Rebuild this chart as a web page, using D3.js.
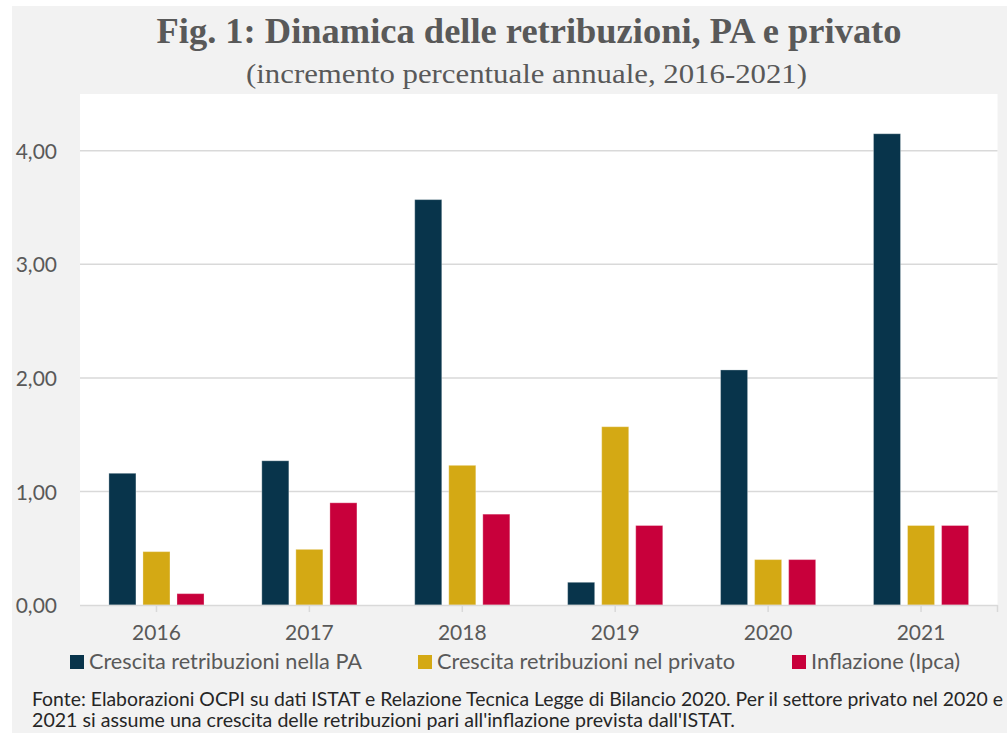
<!DOCTYPE html>
<html>
<head>
<meta charset="utf-8">
<script src="https://cdn.jsdelivr.net/npm/d3@7"></script>
<style>
  html, body { margin: 0; padding: 0; background: #ffffff; }
  svg { display: block; }
</style>
</head>
<body>
<svg id="chart" width="1007" height="733"></svg>
<script>
// ---------- DATA ----------
const categories = ["2016", "2017", "2018", "2019", "2020", "2021"];
const seriesNames = [
  "Crescita retribuzioni nella PA",
  "Crescita retribuzioni nel privato",
  "Inflazione (Ipca)"
];
const paValues = [1.16, 1.27, 3.57, 0.20, 2.07, 4.15];
const privatoValues = [0.47, 0.49, 1.23, 1.57, 0.40, 0.70];
const inflazioneValues = [0.10, 0.90, 0.80, 0.70, 0.40, 0.70];
const yTickValues = [0, 1, 2, 3, 4];
const titleText = "Fig. 1: Dinamica delle retribuzioni, PA e privato";
const subtitleText = "(incremento percentuale annuale, 2016-2021)";
const sourceLines = [
  "Fonte: Elaborazioni OCPI su dati ISTAT e Relazione Tecnica Legge di Bilancio 2020. Per il settore privato nel 2020 e",
  "2021 si assume una crescita delle retribuzioni pari all'inflazione prevista dall'ISTAT."
];

// ---------- STYLE / LAYOUT ----------
const colors = ["#08344b", "#d4a914", "#c8003b"];
const seriesValues = [paValues, privatoValues, inflazioneValues];
const sans = "Lato, 'Open Sans', sans-serif";
const serif = "'Liberation Serif', 'DejaVu Serif', serif";

const plot = { left: 80, right: 997.5, top: 94, bottom: 605 };

const svg = d3.select("#chart");

// backgrounds
svg.append("rect").attr("x", 12).attr("y", 6).attr("width", 1007 - 12).attr("height", 733 - 6)
  .attr("fill", "#f2f2f2");
svg.append("rect").attr("x", plot.left).attr("y", plot.top)
  .attr("width", plot.right - plot.left).attr("height", plot.bottom - plot.top)
  .attr("fill", "#ffffff");

function fit(sel, w) {
  sel.attr("textLength", w).attr("lengthAdjust", "spacingAndGlyphs");
}

// title
svg.append("text").attr("x", 529).attr("y", 43).attr("text-anchor", "middle")
  .attr("font-family", serif).attr("font-weight", "bold").attr("font-size", 35)
  .attr("fill", "#595959").text(titleText).call(fit, 745);
svg.append("text").attr("x", 526.5).attr("y", 83).attr("text-anchor", "middle")
  .attr("font-family", serif).attr("font-size", 27)
  .attr("fill", "#595959").text(subtitleText).call(fit, 561);

// scales
const x0 = d3.scaleBand().domain(categories).range([plot.left, plot.right])
  .paddingInner(0.378).paddingOuter(0.189);
const x1 = d3.scaleBand().domain(d3.range(seriesNames.length)).range([0, x0.bandwidth()])
  .paddingInner(0.206).paddingOuter(0);
const y = d3.scaleLinear().domain([0, 4.5]).range([plot.bottom, plot.top]);

const locale = d3.formatLocale({ decimal: ",", thousands: ".", grouping: [3], currency: ["", "€"] });
const fmt = locale.format(".2f");

// gridlines
svg.append("g")
  .selectAll("line").data(yTickValues.filter(d => d > 0)).join("line")
  .attr("x1", plot.left).attr("x2", plot.right)
  .attr("y1", d => y(d)).attr("y2", d => y(d))
  .attr("stroke", "#d9d9d9").attr("stroke-width", 1.5);

// y axis labels
const yAxis = d3.axisLeft(y).tickValues(yTickValues).tickFormat(fmt).tickSize(0).tickPadding(23);
const gy = svg.append("g").attr("transform", `translate(${plot.left},0)`).call(yAxis);
gy.select(".domain").remove();
gy.selectAll("text").attr("font-family", sans).attr("font-size", 21).attr("fill", "#595959")
  .attr("dy", "0.36em");

// bars
const groups = svg.append("g").selectAll("g").data(categories).join("g")
  .attr("transform", d => `translate(${x0(d)},0)`);
groups.selectAll("rect")
  .data((cat, i) => seriesValues.map((vals, s) => ({ s, v: vals[i] })))
  .join("rect")
  .attr("x", d => x1(d.s))
  .attr("width", x1.bandwidth())
  .attr("y", d => y(d.v))
  .attr("height", d => y(0) - y(d.v))
  .attr("fill", d => colors[d.s])
  .attr("stroke", "#ffffff").attr("stroke-opacity", 0.3).attr("stroke-width", 1);

// x axis
const xAxis = d3.axisBottom(x0).tickSize(0).tickPadding(20);
const gx = svg.append("g").attr("transform", `translate(0,${plot.bottom})`).call(xAxis);
gx.select(".domain").attr("stroke", "#d9d9d9").attr("stroke-width", 1.5)
  .attr("d", `M${plot.left},0.5H${plot.right}`);
gx.selectAll("text").attr("font-family", sans).attr("font-size", 21).attr("fill", "#595959");
// tick marks at category centres and at the right edge
const tickXs = categories.map(c => x0(c) + x0.bandwidth() / 2).concat([plot.right]);
gx.append("g").selectAll("line").data(tickXs).join("line")
  .attr("x1", d => d).attr("x2", d => d).attr("y1", 0).attr("y2", 7)
  .attr("stroke", "#d9d9d9").attr("stroke-width", 1.5);

// legend
const legendX = [70, 418, 792];
const legendW = [273, 298, 149];
const leg = svg.append("g").selectAll("g").data(seriesNames).join("g")
  .attr("transform", (d, i) => `translate(${legendX[i]},655)`);
leg.append("rect").attr("width", 14).attr("height", 14).attr("fill", (d, i) => colors[i]);
leg.append("text").attr("x", 19).attr("y", 14.3)
  .attr("font-family", sans).attr("font-size", 21).attr("fill", "#595959")
  .text(d => d)
  .each(function (d, i) { d3.select(this).call(fit, legendW[i]); });

// source
const srcW = [971, 703];
svg.append("g").selectAll("text").data(sourceLines).join("text")
  .attr("x", 32).attr("y", (d, i) => 705.5 + i * 21)
  .attr("font-family", sans).attr("font-size", 19).attr("fill", "#262626")
  .text(d => d)
  .each(function (d, i) { d3.select(this).call(fit, srcW[i]); });
</script>
</body>
</html>
